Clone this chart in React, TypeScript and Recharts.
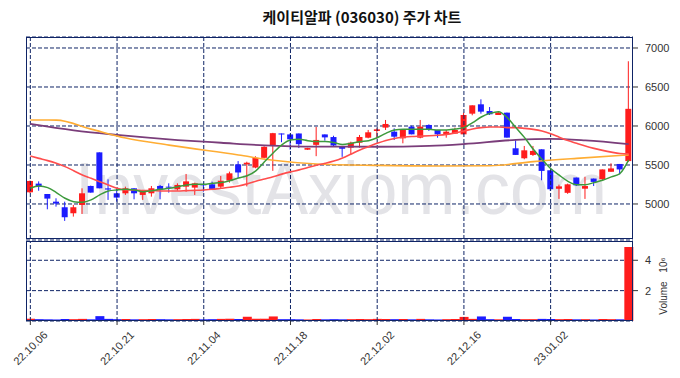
import React from "react";
import {
  ComposedChart,
  BarChart,
  Bar,
  Line,
  XAxis,
  YAxis,
  CartesianGrid,
  ReferenceLine,
  Cell,
} from "recharts";

const dates = [
  "22.10.06", "22.10.07", "22.10.11", "22.10.12", "22.10.13", "22.10.14", "22.10.17", "22.10.18", "22.10.19", "22.10.20",
  "22.10.21", "22.10.24", "22.10.25", "22.10.26", "22.10.27", "22.10.28", "22.10.31", "22.11.01", "22.11.02", "22.11.03",
  "22.11.04", "22.11.07", "22.11.08", "22.11.09", "22.11.10", "22.11.11", "22.11.14", "22.11.15", "22.11.16", "22.11.17",
  "22.11.18", "22.11.21", "22.11.22", "22.11.23", "22.11.24", "22.11.25", "22.11.28", "22.11.29", "22.11.30", "22.12.01",
  "22.12.02", "22.12.05", "22.12.06", "22.12.07", "22.12.08", "22.12.09", "22.12.12", "22.12.13", "22.12.14", "22.12.15",
  "22.12.16", "22.12.19", "22.12.20", "22.12.21", "22.12.22", "22.12.23", "22.12.26", "22.12.27", "22.12.28", "22.12.29",
  "23.01.02", "23.01.03", "23.01.04", "23.01.05", "23.01.06", "23.01.09", "23.01.10", "23.01.11", "23.01.12", "23.01.13",
];

const opens = [
  5150, 5261, 5128, 5030, 4958, 4881, 4988, 5231, 5662, 5200,
  5137, 5137, 5201, 5116, 5137, 5231, 5222, 5188, 5222, 5210,
  5252, 5252, 5222, 5299, 5508, 5508, 5467, 5592, 5750, 5904,
  5892, 5904, 5696, 5758, 5892, 5858, 5737, 5722, 5786, 5850,
  5936, 5979, 5927, 5842, 5991, 5850, 6013, 5949, 5885, 5902,
  5893, 6158, 6278, 6192, 6141, 6171, 5714, 5586, 5629, 5701,
  5432, 5195, 5143, 5339, 5196, 5326, 5317, 5413, 5513, 5550,
];
const highs = [
  5300, 5290, 5128, 5073, 5030, 4988, 5201, 5235, 5662, 5316,
  5201, 5222, 5201, 5180, 5231, 5244, 5265, 5265, 5385, 5274,
  5274, 5286, 5359, 5415, 5550, 5542, 5612, 5740, 5912, 5904,
  5904, 5904, 5720, 5988, 5892, 5875, 5737, 5799, 5885, 5949,
  5970, 6077, 5970, 5957, 6004, 6077, 6021, 5949, 5949, 5979,
  6170, 6265, 6342, 6243, 6184, 6171, 5816, 5744, 5744, 5701,
  5432, 5248, 5261, 5339, 5348, 5326, 5443, 5522, 5513, 6830,
];
const lows = [
  5140, 5170, 4932, 4966, 4783, 4838, 4872, 5146, 5201, 5052,
  5030, 5116, 5060, 5052, 5094, 5060, 5146, 5171, 5158, 5116,
  5158, 5180, 5201, 5274, 5333, 5225, 5458, 5585, 5425, 5792,
  5696, 5717, 5694, 5613, 5812, 5737, 5604, 5628, 5722, 5842,
  5842, 5949, 5820, 5778, 5893, 5842, 5936, 5850, 5850, 5902,
  5893, 6137, 6158, 6141, 6141, 5851, 5629, 5573, 5616, 5304,
  5167, 5065, 5130, 5230, 5065, 5230, 5304, 5413, 5378, 5540,
];
const closes = [
  5295, 5222, 5069, 5005, 4830, 4958, 5137, 5146, 5201, 5185,
  5082, 5201, 5137, 5158, 5201, 5193, 5214, 5244, 5290, 5265,
  5244, 5193, 5299, 5393, 5404, 5529, 5592, 5733, 5908, 5892,
  5829, 5767, 5717, 5821, 5854, 5750, 5708, 5786, 5859, 5919,
  5957, 6026, 5863, 5957, 5893, 5991, 5949, 5893, 5927, 5949,
  6141, 6265, 6184, 6150, 6171, 5851, 5629, 5688, 5680, 5424,
  5189, 5226, 5252, 5239, 5230, 5283, 5443, 5456, 5443, 6220,
];

// volume in millions
const volumes = [
  0.15, 0.12, 0.11, 0.1, 0.13, 0.12, 0.14, 0.11, 0.32, 0.14,
  0.12, 0.13, 0.11, 0.12, 0.13, 0.12, 0.11, 0.12, 0.13, 0.14,
  0.11, 0.12, 0.14, 0.15, 0.13, 0.28, 0.14, 0.15, 0.3, 0.12,
  0.12, 0.11, 0.1, 0.13, 0.11, 0.12, 0.11, 0.12, 0.13, 0.12,
  0.14, 0.13, 0.12, 0.13, 0.11, 0.14, 0.11, 0.1, 0.12, 0.13,
  0.27, 0.14, 0.3, 0.12, 0.11, 0.28, 0.13, 0.12, 0.12, 0.14,
  0.13, 0.12, 0.13, 0.11, 0.12, 0.1, 0.13, 0.12, 0.11, 4.88,
];

const ma5 = [
  5201, 5231, 5210, 5146, 5073, 5030, 5022, 5052, 5116, 5167,
  5180, 5188, 5180, 5158, 5171, 5188, 5201, 5222, 5244, 5252,
  5252, 5265, 5274, 5299, 5333, 5362, 5425, 5542, 5654, 5758,
  5821, 5829, 5812, 5800, 5800, 5787, 5762, 5778, 5799, 5812,
  5850, 5906, 5949, 5957, 5957, 5957, 5957, 5949, 5948, 5962,
  5979, 6043, 6115, 6162, 6184, 6107, 5979, 5851, 5701, 5573,
  5455, 5369, 5291, 5248, 5248, 5274, 5304, 5348, 5391, 5565,
];
const ma20 = [
  5615, 5585, 5556, 5521, 5479, 5427, 5372, 5329, 5286, 5244,
  5201, 5180, 5180, 5171, 5171, 5167, 5167, 5167, 5171, 5175,
  5180, 5188, 5201, 5214, 5231, 5258, 5292, 5321, 5350, 5383,
  5412, 5437, 5467, 5496, 5521, 5550, 5590, 5641, 5693, 5735,
  5778, 5815, 5840, 5855, 5865, 5870, 5875, 5882, 5893, 5912,
  5935, 5962, 5979, 5987, 5987, 5979, 5979, 5970, 5957, 5936,
  5902, 5856, 5813, 5778, 5743, 5713, 5687, 5665, 5648, 5643,
];
// longer averages read at a few candles only
const ma60Idx = [0, 3, 7, 11, 16, 24, 28, 33, 40, 47, 53, 58, 63, 69];
const ma60Val = [6077, 6075, 5960, 5845, 5755, 5628, 5560, 5513, 5495, 5487, 5490, 5543, 5585, 5630];
const ma120Idx = [0, 5, 10, 17, 22, 27, 33, 40, 46, 50, 56, 60, 64, 69];
const ma120Val = [6026, 5944, 5885, 5820, 5785, 5752, 5735, 5734, 5745, 5769, 5822, 5835, 5815, 5768];

const tickDates = ["22.10.06", "22.10.21", "22.11.04", "22.11.18", "22.12.02", "22.12.16", "23.01.02"];

const RED = "#ff1c1c";
const BLUE = "#1c1cff";
const GRID = "#0f2466";
const FONT = "'Liberation Sans', Arial, sans-serif";

const rows = dates.map((date, i) => ({
  date,
  open: opens[i],
  high: highs[i],
  low: lows[i],
  close: closes[i],
  volume: volumes[i],
  ma5: ma5[i],
  ma20: ma20[i],
  ma60: ma60Idx.includes(i) ? ma60Val[ma60Idx.indexOf(i)] : null,
  ma120: ma120Idx.includes(i) ? ma120Val[ma120Idx.indexOf(i)] : null,
}));

const Candle = (props: any) => {
  const { x, y, width, height, payload } = props;
  const { open, close, high, low } = payload;
  const top = Math.min(y, y + height);
  const h = Math.abs(height);
  const ppu = high > low ? h / (high - low) : 0;
  const color = close >= open ? RED : BLUE;
  const bodyTop = top + (high - Math.max(open, close)) * ppu;
  const bodyH = Math.max(1, Math.abs(open - close) * ppu);
  const cx = x + width / 2;
  return (
    <g>
      <line x1={cx} x2={cx} y1={top} y2={top + h} stroke={color} strokeWidth={1} />
      <rect x={x} y={bodyTop} width={width} height={bodyH} fill={color} />
    </g>
  );
};

// matplotlib-style: rotated 45deg, centred under the tick
const DateTick = (props: any) => {
  const { x, y, payload } = props;
  return (
    <g transform={`translate(${x},${y + 21}) rotate(-45)`}>
      <text x={0} y={0} dy="0.35em" textAnchor="middle" fontSize={11} fill="#333" fontFamily={FONT}>
        {payload.value}
      </text>
    </g>
  );
};

const vLines = tickDates.map((d) => (
  <ReferenceLine key={d} x={d} stroke={GRID} strokeDasharray="4 2" />
));

export default function App() {
  return (
    <div style={{ position: "absolute", left: 0, top: 0, width: 680, height: 378, background: "#fff" }}>
      <svg width={680} height={378} style={{ position: "absolute", left: 0, top: 0 }}>
        <text
          x={341}
          y={214}
          textAnchor="middle"
          fontSize={74}
          fontFamily={FONT}
          fill="#e3e3e7"
          textLength={532}
          lengthAdjust="spacingAndGlyphs"
        >
          InvestAxiom.com
        </text>
      </svg>

      <div style={{ position: "absolute", left: 0, top: 0 }}>
        <ComposedChart width={680} height={240} data={rows} margin={{ top: 37, right: 0, left: 26, bottom: 1 }}>
          <CartesianGrid vertical={false} stroke={GRID} strokeDasharray="4 2" />
          <XAxis dataKey="date" hide />
          <YAxis
            orientation="right"
            domain={[4551, 7141]}
            ticks={[5000, 5500, 6000, 6500, 7000]}
            width={47}
            axisLine={false}
            tickSize={5}
            tickMargin={7}
            stroke="#333"
            tick={{ fontSize: 11, fill: "#333", fontFamily: FONT }}
            allowDataOverflow
          />
          {vLines}
          <Bar dataKey={(d: any) => [d.low, d.high]} shape={<Candle />} barSize={6} isAnimationActive={false} />
          <Line dataKey="ma120" stroke="#7a3d7a" strokeWidth={1.8} dot={false} connectNulls type="monotone" isAnimationActive={false} />
          <Line dataKey="ma60" stroke="#ffad33" strokeWidth={1.6} dot={false} connectNulls type="monotone" isAnimationActive={false} />
          <Line dataKey="ma20" stroke="#ff4d4d" strokeWidth={1.6} dot={false} type="monotone" isAnimationActive={false} />
          <Line dataKey="ma5" stroke="#3c9a3c" strokeWidth={1.5} dot={false} type="monotone" isAnimationActive={false} />
        </ComposedChart>
      </div>

      <div style={{ position: "absolute", left: 0, top: 0 }}>
        <BarChart width={680} height={378} data={rows} margin={{ top: 241, right: 0, left: 26, bottom: 0 }} barCategoryGap={0}>
          <CartesianGrid vertical={false} stroke={GRID} strokeDasharray="4 2" />
          <XAxis
            dataKey="date"
            ticks={tickDates}
            interval={0}
            height={57}
            axisLine={false}
            tickSize={4}
            stroke="#333"
            tick={<DateTick />}
          />
          <YAxis
            orientation="right"
            domain={[0, 5.27]}
            ticks={[2, 4]}
            width={47}
            axisLine={false}
            tickSize={5}
            tickMargin={7}
            stroke="#333"
            tick={{ fontSize: 11, fill: "#333", fontFamily: FONT }}
            allowDataOverflow
          />
          {vLines}
          <Bar dataKey="volume" isAnimationActive={false}>
            {rows.map((r) => (
              <Cell key={r.date} fill={r.close >= r.open ? RED : BLUE} />
            ))}
          </Bar>
        </BarChart>
      </div>

      <svg width={680} height={378} style={{ position: "absolute", left: 0, top: 0, pointerEvents: "none" }}>
        <text x={362} y={23} textAnchor="middle" fontSize={15} fontWeight="bold" fontFamily="'Noto Sans CJK KR', sans-serif" fill="#111">
          케이티알파 (036030) 주가 차트
        </text>
        <rect x={26.5} y={37.5} width={606} height={201} fill="none" stroke={GRID} strokeWidth={1} />
        <rect x={26.5} y={241.5} width={606} height={79} fill="none" stroke={GRID} strokeWidth={1} />
        <text transform="translate(667,298) rotate(-90)" textAnchor="middle" fontSize={10} fontFamily={FONT} fill="#333">
          Volume
        </text>
        <text transform="translate(667,265) rotate(-90)" textAnchor="middle" fontSize={10} fontFamily={FONT} fill="#333">
          10⁶
        </text>
      </svg>
    </div>
  );
}
